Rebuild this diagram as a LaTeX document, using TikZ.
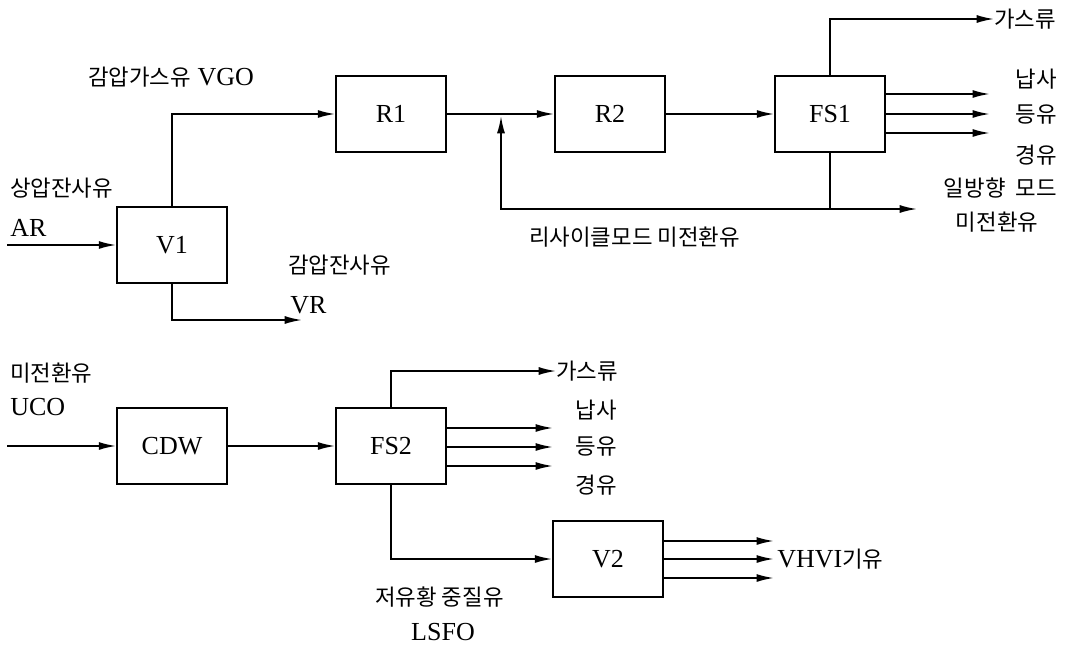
\documentclass[tikz,border=0pt]{standalone}
\usepackage{fontspec}
\setmainfont{Liberation Serif}
\newfontfamily\kr[Scale=0.86]{Noto Sans CJK KR}
\usetikzlibrary{arrows.meta,calc}

\begin{document}
\begin{tikzpicture}[x=0.75pt,y=-0.75pt,
  unit/.style={draw,line width=1.3pt,minimum width=82.5pt,minimum height=57pt,inner sep=0pt,font=\fontsize{19.5}{22}\selectfont},
  lbl/.style={inner sep=0pt,font=\fontsize{19.5}{22}\selectfont},
  arrow/.style={-{Latex[length=13pt,width=6pt]},line width=1.3pt}
]
\useasboundingbox (0,0) rectangle (1069,646);
\node[unit] (v1) at (172,245) {V1};
\node[unit] (r1) at (391,114) {R1};
\node[unit] (r2) at (610,114) {R2};
\node[unit] (fs1) at (830,114) {FS1};
\node[unit] (cdw) at (172,446) {CDW};
\node[unit] (fs2) at (391,446) {FS2};
\node[unit] (v2) at (608,559) {V2};
\node[lbl,anchor=west] (vgo) at (88,77) {{\kr 감압가스유} VGO};
\node[lbl,anchor=west] (ar1) at (10,188) {\kr 상압잔사유};
\node[lbl,anchor=west] (ar2) at (10,228) {AR};
\node[lbl,anchor=west] (vr1) at (288,265) {\kr 감압잔사유};
\node[lbl,anchor=west] (vr2) at (290,305) {VR};
\node[lbl,anchor=west] (rec1) at (529,237) {\kr 리사이클모드\ 미전환유};
\node[lbl,anchor=west] (gas1) at (994,19) {\kr 가스류};
\node[lbl,anchor=east] (nap1) at (1057,79) {\kr 납사};
\node[lbl,anchor=east] (ker1) at (1057,115) {\kr 등유};
\node[lbl,anchor=east] (gso1) at (1057,155) {\kr 경유};
\node[lbl,anchor=east] (once1) at (1057,188) {\kr 일방향\ \ 모드};
\node[lbl] (once2) at (997,222) {\kr 미전환유};
\node[lbl,anchor=west] (uco1) at (10,373) {\kr 미전환유};
\node[lbl,anchor=west] (uco2) at (10,407) {UCO};
\node[lbl,anchor=west] (gas2) at (556,371) {\kr 가스류};
\node[lbl,anchor=east] (nap2) at (617,410) {\kr 납사};
\node[lbl,anchor=east] (ker2) at (617,447) {\kr 등유};
\node[lbl,anchor=east] (gso2) at (617,485) {\kr 경유};
\node[lbl,anchor=west] (lsfo1) at (375,597) {\kr 저유황\ 중질유};
\node[lbl] (lsfo2) at (443,632) {LSFO};
\node[lbl,anchor=west] (vhvi) at (777,559) {VHVI{\kr 기유}};
\coordinate (arin) at (7,245);
\coordinate (vrout) at (302,320);
\coordinate (mix) at (501,116);
\coordinate (rec) at (501,209);
\coordinate (onceout) at (917,209);
\coordinate (ucoin) at (7,446);
\draw[arrow] (arin) -- (v1.west);
\draw[arrow] (v1.north) |- (r1.west);
\draw[arrow] (v1.south) |- (vrout);
\draw[arrow] (r1.east) -- (r2.west);
\draw[arrow] (r2.east) -- (fs1.west);
\draw[arrow] (fs1.north) |- (gas1.west);
\foreach \dy [count=\i] in {-20,0,19}
  \draw[arrow] ($(fs1.east)+(0,\dy)$) -- ($(fs1.east)+(104,\dy)$) coordinate (fs1o\i);
\draw[arrow] (fs1.south) |- (rec) -- (mix);
\draw[arrow] (fs1.south |- rec) -- (onceout);
\draw[arrow] (ucoin) -- (cdw.west);
\draw[arrow] (cdw.east) -- (fs2.west);
\draw[arrow] (fs2.north) |- (gas2.west);
\foreach \dy [count=\i] in {-18,1,20}
  \draw[arrow] ($(fs2.east)+(0,\dy)$) -- ($(fs2.east)+(106,\dy)$) coordinate (fs2o\i);
\draw[arrow] (fs2.south) |- (v2.west);
\foreach \dy [count=\i] in {-18,0,19}
  \draw[arrow] ($(v2.east)+(0,\dy)$) -- ($(v2.east)+(110,\dy)$) coordinate (v2o\i);
\end{tikzpicture}
\end{document}
